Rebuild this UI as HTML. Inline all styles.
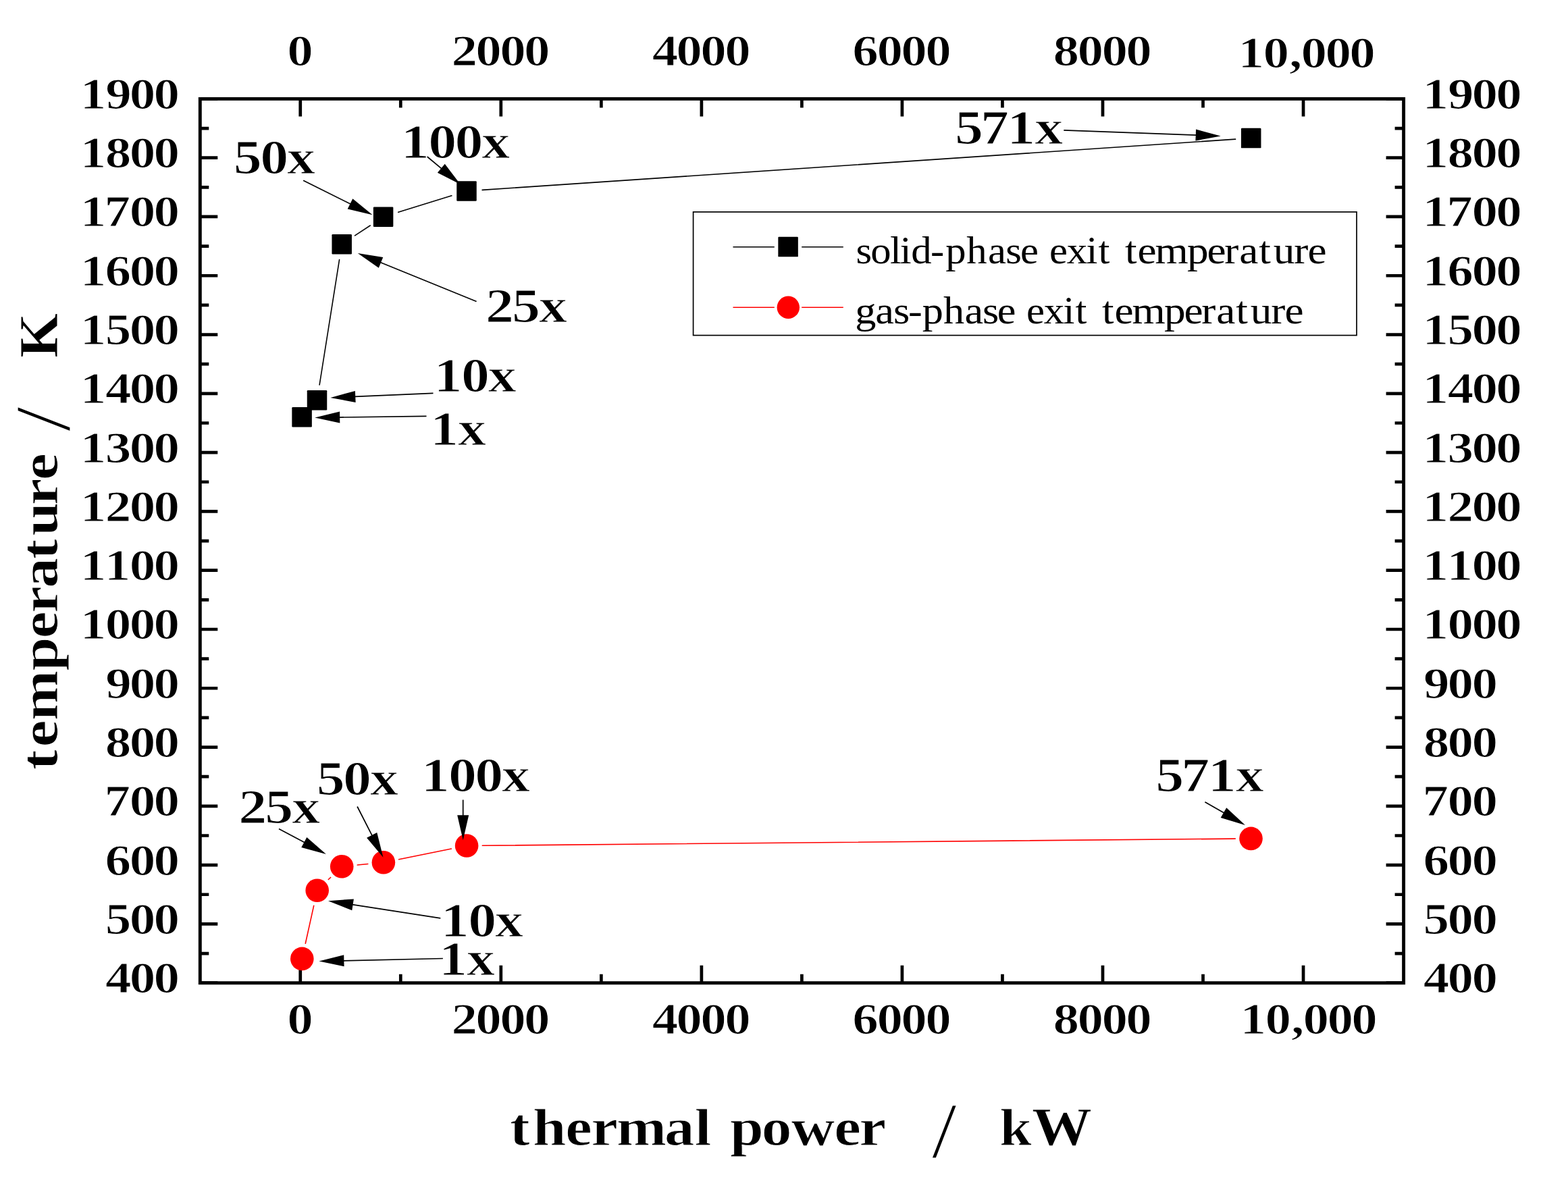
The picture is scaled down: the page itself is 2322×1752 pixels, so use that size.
<!DOCTYPE html>
<html lang="en">
<head>
<meta charset="utf-8">
<title>Exit temperature vs. thermal power</title>
<style>
html,body{margin:0;padding:0;background:#fff;}
body{width:2322px;height:1752px;overflow:hidden;}
svg{display:block;}
text{font-family:"Liberation Serif",serif;font-kerning:none;font-variant-ligatures:none;fill:#000;white-space:pre;}
.b text{font-weight:bold;}
.r text{font-weight:normal;}
.e1 text{stroke:#fff;stroke-width:1.1;}
.e2 text{stroke:#fff;stroke-width:1.2;}
.d1 text{stroke:#fff;stroke-width:0.9;}
text.sl{font-weight:normal;stroke:#fff;stroke-width:1.2;}
</style>
</head>
<body>
<svg width="2322" height="1752" viewBox="0 0 2322 1752">
<rect width="2322" height="1752" fill="#fff"/>
<g id="axes" stroke="#000" stroke-width="4.7" fill="none">
<path d="M444.76 146.4V172.4M444.76 1455.7V1429.7M593.29 146.4V159.4M593.29 1455.7V1442.7M741.82 146.4V172.4M741.82 1455.7V1429.7M890.35 146.4V159.4M890.35 1455.7V1442.7M1038.88 146.4V172.4M1038.88 1455.7V1429.7M1187.4 146.4V159.4M1187.4 1455.7V1442.7M1335.93 146.4V172.4M1335.93 1455.7V1429.7M1484.46 146.4V159.4M1484.46 1455.7V1442.7M1632.99 146.4V172.4M1632.99 1455.7V1429.7M1781.52 146.4V159.4M1781.52 1455.7V1442.7M1930.05 146.4V172.4M1930.05 1455.7V1429.7"/>
<path d="M296.3 1455.71H322.3M2078.6 1455.71H2052.6M296.3 1412.06H309.3M2078.6 1412.06H2065.6M296.3 1368.42H322.3M2078.6 1368.42H2052.6M296.3 1324.77H309.3M2078.6 1324.77H2065.6M296.3 1281.13H322.3M2078.6 1281.13H2052.6M296.3 1237.49H309.3M2078.6 1237.49H2065.6M296.3 1193.84H322.3M2078.6 1193.84H2052.6M296.3 1150.2H309.3M2078.6 1150.2H2065.6M296.3 1106.56H322.3M2078.6 1106.56H2052.6M296.3 1062.91H309.3M2078.6 1062.91H2065.6M296.3 1019.27H322.3M2078.6 1019.27H2052.6M296.3 975.63H309.3M2078.6 975.63H2065.6M296.3 931.98H322.3M2078.6 931.98H2052.6M296.3 888.34H309.3M2078.6 888.34H2065.6M296.3 844.7H322.3M2078.6 844.7H2052.6M296.3 801.05H309.3M2078.6 801.05H2065.6M296.3 757.41H322.3M2078.6 757.41H2052.6M296.3 713.77H309.3M2078.6 713.77H2065.6M296.3 670.12H322.3M2078.6 670.12H2052.6M296.3 626.48H309.3M2078.6 626.48H2065.6M296.3 582.84H322.3M2078.6 582.84H2052.6M296.3 539.19H309.3M2078.6 539.19H2065.6M296.3 495.55H322.3M2078.6 495.55H2052.6M296.3 451.9H309.3M2078.6 451.9H2065.6M296.3 408.26H322.3M2078.6 408.26H2052.6M296.3 364.62H309.3M2078.6 364.62H2065.6M296.3 320.97H322.3M2078.6 320.97H2052.6M296.3 277.33H309.3M2078.6 277.33H2065.6M296.3 233.69H322.3M2078.6 233.69H2052.6M296.3 190.04H309.3M2078.6 190.04H2065.6M296.3 146.4H322.3M2078.6 146.4H2052.6"/>
<rect x="296.3" y="146.4" width="1782.3" height="1309.3" stroke-width="4.9"/>
</g>
<g id="ticklabels" class="b e1">
<text font-size="65.65" transform="translate(0 96.9) scale(1.1750 1)" x="361.86">0</text>
<text font-size="65.65" transform="translate(0 96.9) scale(1.1750 1)" x="568.88 599.4 629.96 660.51">2000</text>
<text font-size="65.65" transform="translate(0 96.9) scale(1.1750 1)" x="821.83 852.22 882.78 913.33">4000</text>
<text font-size="65.65" transform="translate(0 96.9) scale(1.1750 1)" x="1074.33 1105.04 1135.6 1166.15">6000</text>
<text font-size="65.65" transform="translate(0 96.9) scale(1.1750 1)" x="1327.31 1357.86 1388.42 1418.97">8000</text>
<text font-size="65.65" transform="translate(0 99.6) scale(1.1750 1)" x="1560.34 1591.82 1624.75 1639.62 1670.17 1700.73">10,000</text>
<text font-size="65.65" transform="translate(0 160.85) scale(1.1750 1)" x="101.13 132.9 163.17 193.72">1900</text>
<text font-size="65.65" transform="translate(0 248.14) scale(1.1750 1)" x="101.13 132.61 163.17 193.72">1800</text>
<text font-size="65.65" transform="translate(0 335.42) scale(1.1750 1)" x="101.13 131.54 163.17 193.72">1700</text>
<text font-size="65.65" transform="translate(0 422.71) scale(1.1750 1)" x="101.13 132.45 163.17 193.72">1600</text>
<text font-size="65.65" transform="translate(0 510) scale(1.1750 1)" x="101.13 132.5 163.17 193.72">1500</text>
<text font-size="65.65" transform="translate(0 597.29) scale(1.1750 1)" x="101.13 132.77 163.17 193.72">1400</text>
<text font-size="65.65" transform="translate(0 684.57) scale(1.1750 1)" x="101.13 132.5 163.17 193.72">1300</text>
<text font-size="65.65" transform="translate(0 771.86) scale(1.1750 1)" x="101.13 132.64 163.17 193.72">1200</text>
<text font-size="65.65" transform="translate(0 859.15) scale(1.1750 1)" x="101.13 131.68 163.17 193.72">1100</text>
<text font-size="65.65" transform="translate(0 946.43) scale(1.1750 1)" x="101.13 132.61 163.17 193.72">1000</text>
<text font-size="65.65" transform="translate(0 1033.72) scale(1.1750 1)" x="132.9 163.17 193.72">900</text>
<text font-size="65.65" transform="translate(0 1121.01) scale(1.1750 1)" x="132.61 163.17 193.72">800</text>
<text font-size="65.65" transform="translate(0 1208.29) scale(1.1750 1)" x="131.54 163.17 193.72">700</text>
<text font-size="65.65" transform="translate(0 1295.58) scale(1.1750 1)" x="132.45 163.17 193.72">600</text>
<text font-size="65.65" transform="translate(0 1382.87) scale(1.1750 1)" x="132.5 163.17 193.72">500</text>
<text font-size="65.65" transform="translate(0 1470.16) scale(1.1750 1)" x="132.77 163.17 193.72">400</text>
<text font-size="65.65" transform="translate(0 160.85) scale(1.1750 1)" x="1792.82 1824.59 1854.86 1885.41">1900</text>
<text font-size="65.65" transform="translate(0 248.14) scale(1.1750 1)" x="1792.82 1824.3 1854.86 1885.41">1800</text>
<text font-size="65.65" transform="translate(0 335.42) scale(1.1750 1)" x="1792.82 1823.23 1854.86 1885.41">1700</text>
<text font-size="65.65" transform="translate(0 422.71) scale(1.1750 1)" x="1792.82 1824.14 1854.86 1885.41">1600</text>
<text font-size="65.65" transform="translate(0 510) scale(1.1750 1)" x="1792.82 1824.19 1854.86 1885.41">1500</text>
<text font-size="65.65" transform="translate(0 597.29) scale(1.1750 1)" x="1792.82 1824.46 1854.86 1885.41">1400</text>
<text font-size="65.65" transform="translate(0 684.57) scale(1.1750 1)" x="1792.82 1824.19 1854.86 1885.41">1300</text>
<text font-size="65.65" transform="translate(0 771.86) scale(1.1750 1)" x="1792.82 1824.34 1854.86 1885.41">1200</text>
<text font-size="65.65" transform="translate(0 859.15) scale(1.1750 1)" x="1792.82 1823.37 1854.86 1885.41">1100</text>
<text font-size="65.65" transform="translate(0 946.43) scale(1.1750 1)" x="1792.82 1824.3 1854.86 1885.41">1000</text>
<text font-size="65.65" transform="translate(0 1033.72) scale(1.1750 1)" x="1794.04 1824.3 1854.86">900</text>
<text font-size="65.65" transform="translate(0 1121.01) scale(1.1750 1)" x="1793.75 1824.3 1854.86">800</text>
<text font-size="65.65" transform="translate(0 1208.29) scale(1.1750 1)" x="1792.68 1824.3 1854.86">700</text>
<text font-size="65.65" transform="translate(0 1295.58) scale(1.1750 1)" x="1793.59 1824.3 1854.86">600</text>
<text font-size="65.65" transform="translate(0 1382.87) scale(1.1750 1)" x="1793.64 1824.3 1854.86">500</text>
<text font-size="65.65" transform="translate(0 1470.16) scale(1.1750 1)" x="1793.91 1824.3 1854.86">400</text>
<text font-size="65.65" transform="translate(0 1530.9) scale(1.1750 1)" x="361.86">0</text>
<text font-size="65.65" transform="translate(0 1530.9) scale(1.1750 1)" x="568.88 599.4 629.96 660.51">2000</text>
<text font-size="65.65" transform="translate(0 1530.9) scale(1.1750 1)" x="821.83 852.22 882.78 913.33">4000</text>
<text font-size="65.65" transform="translate(0 1530.9) scale(1.1750 1)" x="1074.33 1105.04 1135.6 1166.15">6000</text>
<text font-size="65.65" transform="translate(0 1530.9) scale(1.1750 1)" x="1327.31 1357.86 1388.42 1418.97">8000</text>
<text font-size="65.65" transform="translate(0 1530.9) scale(1.1750 1)" x="1562.89 1594.38 1627.3 1642.17 1672.73 1703.28">10,000</text>
</g>
<g id="titles" class="b d1">
<text font-size="77.54" transform="translate(0 1696.25) scale(1.1458 1)" x="658.87 688.61 730.77 764.09 796.83 858.9 897.76">thermal</text>
<text font-size="77.54" transform="translate(0 1696.25) scale(1.1521 1)" x="938.19 978.78 1017.14 1072.13 1104.49">power</text>
<text class="sl" font-size="116.4" transform="translate(1380 1714.36) scale(1.1310 1)">/</text>
<text font-size="77.54" transform="translate(0 1696.25) scale(1.1014 1)" x="1343.87 1387.38">k<tspan font-size="80.79">W</tspan></text>
<text font-size="77.54" transform="translate(85.25 0) rotate(-90) scale(1.1547 1)" x="-987.39 -958 -924.26 -860.41 -818.66 -786.15 -754.06 -717.32 -687.13 -648.02 -615.74">temperature</text>
<text class="sl" font-size="116.4" transform="translate(103.46 639.1) rotate(-90) scale(1.1310 1)">/</text>
<text font-size="81.59" transform="translate(85.25 0) rotate(-90) scale(1.0441 1)" x="-507.63">K</text>
</g>
<g id="series-solid">
<path d="M473.14 569.89L502.56 384.61M525.57 348.93L548.23 333.97M589.76 314.32L668.84 289.78M714.15 281.34L1829.55 206.16" stroke="#000" stroke-width="1.6" fill="none" stroke-linecap="round"/>
<rect x="432.35" y="603.05" width="29.5" height="29.5" rx="1.2"/>
<rect x="454.75" y="578.05" width="29.5" height="29.5" rx="1.2"/>
<rect x="491.45" y="346.95" width="29.5" height="29.5" rx="1.2"/>
<rect x="552.85" y="306.45" width="29.5" height="29.5" rx="1.2"/>
<rect x="676.25" y="268.15" width="29.5" height="29.5" rx="1.2"/>
<rect x="1837.95" y="189.85" width="29.5" height="29.5" rx="1.2"/>
</g>
<g id="series-gas" fill="#f00">
<path d="M452.31 1397.25L464.69 1341.35M486.35 1302.55L489.55 1299.45M529.29 1281.05L544.81 1279.55M590.64 1272.72L668.36 1257.08M714.3 1252.29L1829.3 1242.11" stroke="#f00" stroke-width="1.6" fill="none" stroke-linecap="round"/>
<circle cx="447.3" cy="1419.9" r="17.3"/>
<circle cx="469.7" cy="1318.7" r="17.3"/>
<circle cx="506.2" cy="1283.3" r="17.3"/>
<circle cx="567.9" cy="1277.3" r="17.3"/>
<circle cx="691.1" cy="1252.5" r="17.3"/>
<circle cx="1852.5" cy="1241.9" r="17.3"/>
</g>
<g id="arrows">
<path d="M449.1 267.3L519.39 302.31" stroke="#000" stroke-width="1.7" fill="none"/>
<path d="M551.62 318.36L514.71 309.47L522.29 294.25Z"/>
<path d="M632.6 232L654.08 249.94" stroke="#000" stroke-width="1.7" fill="none"/>
<path d="M681.71 273.01L647.87 255.82L658.76 242.77Z"/>
<path d="M1575.3 192.9L1771.72 200.11" stroke="#000" stroke-width="1.7" fill="none"/>
<path d="M1807.7 201.43L1770.41 208.57L1771.04 191.58Z"/>
<path d="M705.6 446.5L563.11 388.56" stroke="#000" stroke-width="1.7" fill="none"/>
<path d="M529.76 375L567.24 381.06L560.83 396.81Z"/>
<path d="M641.5 582.4L525.27 587.47" stroke="#000" stroke-width="1.7" fill="none"/>
<path d="M489.3 589.03L525.9 578.93L526.64 595.92Z"/>
<path d="M631.5 616.4L502.2 618.05" stroke="#000" stroke-width="1.7" fill="none"/>
<path d="M466.2 618.51L503.09 609.54L503.31 626.54Z"/>
<path d="M413 1227.4L451.18 1247.87" stroke="#000" stroke-width="1.7" fill="none"/>
<path d="M482.91 1264.88L446.28 1254.89L454.31 1239.9Z"/>
<path d="M529.1 1194.5L551.12 1237.73" stroke="#000" stroke-width="1.7" fill="none"/>
<path d="M567.46 1269.81L543.1 1240.7L558.24 1232.99Z"/>
<path d="M685.7 1184.5L685.7 1208.2" stroke="#000" stroke-width="1.7" fill="none"/>
<path d="M685.7 1244.2L677.2 1207.2L694.2 1207.2Z"/>
<path d="M652.3 1359.8L521.59 1339.66" stroke="#000" stroke-width="1.7" fill="none"/>
<path d="M486.01 1334.18L523.87 1331.41L521.28 1348.21Z"/>
<path d="M655.9 1419.5L508.39 1422.81" stroke="#000" stroke-width="1.7" fill="none"/>
<path d="M472.4 1423.62L509.2 1414.29L509.58 1431.29Z"/>
<path d="M1784.4 1187.7L1812.81 1204.1" stroke="#000" stroke-width="1.7" fill="none"/>
<path d="M1843.99 1222.1L1807.7 1210.96L1816.2 1196.24Z"/>
</g>
<g id="annotations" class="b e2">
<text font-size="71.87" transform="translate(0 257) scale(1.1688 1)" x="295.92 329.58 363.64">50x</text>
<text font-size="71.87" transform="translate(0 233.9) scale(1.1688 1)" x="508.07 542.63 576.17 610.23">100x</text>
<text font-size="71.87" transform="translate(0 213) scale(1.1688 1)" x="1209.71 1242.2 1275.89 1310.97">571x</text>
<text font-size="71.87" transform="translate(0 476.9) scale(1.1688 1)" x="615.13 648.51 682.7">25x</text>
<text font-size="71.87" transform="translate(0 579.5) scale(1.1688 1)" x="549.74 584.3 618.36">10x</text>
<text font-size="71.87" transform="translate(0 659.4) scale(1.1688 1)" x="545.03 580.11">1x</text>
<text font-size="71.87" transform="translate(0 1219.2) scale(1.1688 1)" x="302.32 335.7 369.89">25x</text>
<text font-size="71.87" transform="translate(0 1177.1) scale(1.1688 1)" x="401.07 434.73 468.8">50x</text>
<text font-size="71.87" transform="translate(0 1171.5) scale(1.1688 1)" x="533.57 568.12 601.66 635.73">100x</text>
<text font-size="71.87" transform="translate(0 1386.6) scale(1.1688 1)" x="558.55 593.11 627.17">10x</text>
<text font-size="71.87" transform="translate(0 1443.5) scale(1.1688 1)" x="556.07 591.15">1x</text>
<text font-size="71.87" transform="translate(0 1172.3) scale(1.1688 1)" x="1464.17 1496.65 1530.35 1565.43">571x</text>
</g>
<g id="legend">
<rect x="1026.6" y="313.9" width="982.4" height="182.7" fill="#fff" stroke="#000" stroke-width="1.7"/>
<path d="M1085.5 365.7H1146.8M1187.2 365.7H1248.8" stroke="#000" stroke-width="1.6"/>
<path d="M1085.5 455.2H1146.8M1187.2 455.2H1248.8" stroke="#f00" stroke-width="1.6"/>
<rect x="1152.35" y="350.85" width="29.5" height="29.5" rx="1.2"/>
<circle cx="1167.3" cy="455.3" r="16.7" fill="#f00"/>
<g class="r">
<text font-size="57.3" transform="translate(0 390) scale(1.0600 1)" x="1195.68 1216.18 1243.3 1257.26 1272.86 1300.09 1320.99 1350.29 1380.1 1405.07 1425.55">solid-phase</text>
<text font-size="57.3" transform="translate(0 390) scale(1.0620 1)" x="1463.2 1487.52 1514.58 1531.52">exit</text>
<text font-size="57.3" transform="translate(0 390) scale(1.1043 1)" x="1508.76 1525.36 1549.04 1591.86 1618.72 1641.99 1661.88 1688.15 1707.59 1735.35 1753.65">temperature</text>
<text font-size="57.3" transform="translate(0 478.9) scale(1.0880 1)" x="1163.86 1191.46 1216.02 1236.12 1255.37 1283.9 1312.96 1337.34 1357.25">gas-phase</text>
<text font-size="57.3" transform="translate(0 478.9) scale(1.0620 1)" x="1431.18 1455.5 1482.57 1499.51">exit</text>
<text font-size="57.3" transform="translate(0 478.9) scale(1.1043 1)" x="1477.97 1494.57 1518.25 1561.07 1587.93 1611.2 1631.09 1657.36 1676.8 1704.56 1722.86">temperature</text>
</g>
</g>
</svg>
</body>
</html>
